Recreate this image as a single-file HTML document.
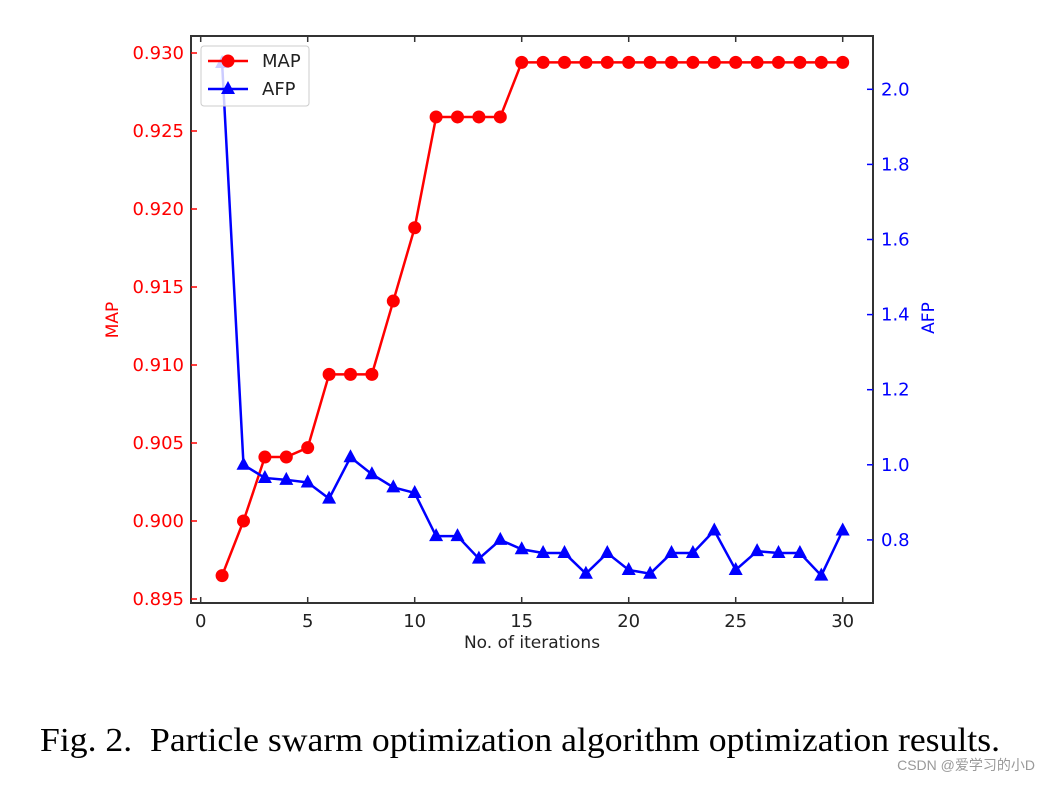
<!DOCTYPE html>
<html><head><meta charset="utf-8"><style>
body{margin:0;background:#fff;width:1050px;height:782px;overflow:hidden}
svg text{font-family:"DejaVu Sans","Liberation Sans",sans-serif}
</style></head><body>
<svg width="1050" height="782" xmlns="http://www.w3.org/2000/svg">
<g id="g"></g>
<text x="40" y="751" font-size="34" textLength="960" lengthAdjust="spacingAndGlyphs" style="font-family:'Liberation Serif',serif">Fig. 2.&#160; Particle swarm optimization algorithm optimization results.</text>
<text x="1035" y="770" text-anchor="end" font-size="14" fill="#999" style="font-family:'Liberation Sans','Noto Sans CJK SC',sans-serif">CSDN @爱学习的小D</text>
</svg>
<script>
const iters=[1,2,3,4,5,6,7,8,9,10,11,12,13,14,15,16,17,18,19,20,21,22,23,24,25,26,27,28,29,30];
const mapVals=[0.8965,0.900,0.9041,0.9041,0.9047,0.9094,0.9094,0.9094,0.9141,0.9188,0.9259,0.9259,0.9259,0.9259,0.9294,0.9294,0.9294,0.9294,0.9294,0.9294,0.9294,0.9294,0.9294,0.9294,0.9294,0.9294,0.9294,0.9294,0.9294,0.9294];
const afpVals=[2.07,1.0,0.965,0.96,0.953,0.91,1.02,0.975,0.94,0.925,0.81,0.81,0.75,0.80,0.775,0.765,0.765,0.71,0.765,0.72,0.71,0.765,0.765,0.825,0.72,0.77,0.765,0.765,0.705,0.825];
const xTicks=[0,5,10,15,20,25,30];
const mapTicks=[0.895,0.900,0.905,0.910,0.915,0.920,0.925,0.930];
const afpTicks=[0.8,1.0,1.2,1.4,1.6,1.8,2.0];
const L=191,R=873,T=36,B=603;
const X=v=>200.7+v*21.4;
const YL=v=>53+(0.930-v)/0.005*78;
const YR=v=>89.3+(2.0-v)/0.2*75.1;
const g=document.getElementById('g');const NS='http://www.w3.org/2000/svg';
function mk(t,a,name){const e=document.createElementNS(NS,t);for(const k in a)e.setAttribute(k,a[k]);


g.appendChild(e);return e;}
mk('rect',{x:L,y:T,width:R-L,height:B-T,fill:'none',stroke:'#333','stroke-width':2},'plot-frame');
xTicks.forEach(v=>{mk('line',{x1:X(v),x2:X(v),y1:B,y2:B-6,stroke:'#333','stroke-width':1.5},'x-tick');
mk('line',{x1:X(v),x2:X(v),y1:T,y2:T+6,stroke:'#333','stroke-width':1.5},'x-tick-top');
const t=mk('text',{x:X(v),y:B+24,'text-anchor':'middle','font-size':18,fill:'#222'},'x-tick-label');t.textContent=v;});
mapTicks.forEach(v=>{mk('line',{x1:L,x2:L+6,y1:YL(v),y2:YL(v),stroke:'red','stroke-width':1.5},'left-tick');
const t=mk('text',{x:L-7,y:YL(v)+6,'text-anchor':'end','font-size':18,fill:'red'},'left-tick-label');t.textContent=v.toFixed(3);});
afpTicks.forEach(v=>{mk('line',{x1:R,x2:R-6,y1:YR(v),y2:YR(v),stroke:'blue','stroke-width':1.5},'right-tick');
const t=mk('text',{x:R+8,y:YR(v)+6,'font-size':18,fill:'blue'},'right-tick-label');t.textContent=v.toFixed(1);});
let t=mk('text',{x:532,y:648,'text-anchor':'middle','font-size':17,fill:'#222'},'x-axis-title');t.textContent='No. of iterations';
t=mk('text',{x:118,y:320,'text-anchor':'middle','font-size':17,fill:'red',transform:'rotate(-90 118 320)'},'left-axis-title');t.textContent='MAP';
t=mk('text',{x:934,y:318,'text-anchor':'middle','font-size':17,fill:'blue',transform:'rotate(-90 934 318)'},'right-axis-title');t.textContent='AFP';
mk('polyline',{points:iters.map((d,i)=>X(d)+','+YL(mapVals[i])).join(' '),fill:'none',stroke:'red','stroke-width':2.5},'map-line');
iters.forEach((d,i)=>mk('circle',{cx:X(d),cy:YL(mapVals[i]),r:6.5,fill:'red'},'map-point'));
mk('polyline',{points:iters.map((d,i)=>X(d)+','+YR(afpVals[i])).join(' '),fill:'none',stroke:'blue','stroke-width':2.5},'afp-line');
iters.forEach((d,i)=>{const x=X(d),y=YR(afpVals[i]);mk('polygon',{points:`${x},${y-8} ${x-7},${y+5} ${x+7},${y+5}`,fill:'blue'},'afp-point');});
mk('rect',{x:201,y:46,width:108,height:60,rx:3,fill:'rgba(255,255,255,0.8)',stroke:'#ccc'},'legend');
mk('line',{x1:208,x2:248,y1:61,y2:61,stroke:'red','stroke-width':2.5},'legend-map-line');
mk('circle',{cx:228,cy:61,r:6.5,fill:'red'},'legend-map-marker');
t=mk('text',{x:262,y:67,'font-size':18,fill:'#222'},'legend-map-label');t.textContent='MAP';
mk('line',{x1:208,x2:248,y1:89,y2:89,stroke:'blue','stroke-width':2.5},'legend-afp-line');
mk('polygon',{points:'228,81 221,94 235,94',fill:'blue'},'legend-afp-marker');
t=mk('text',{x:262,y:95,'font-size':18,fill:'#222'},'legend-afp-label');t.textContent='AFP';
</script>
</body></html>
